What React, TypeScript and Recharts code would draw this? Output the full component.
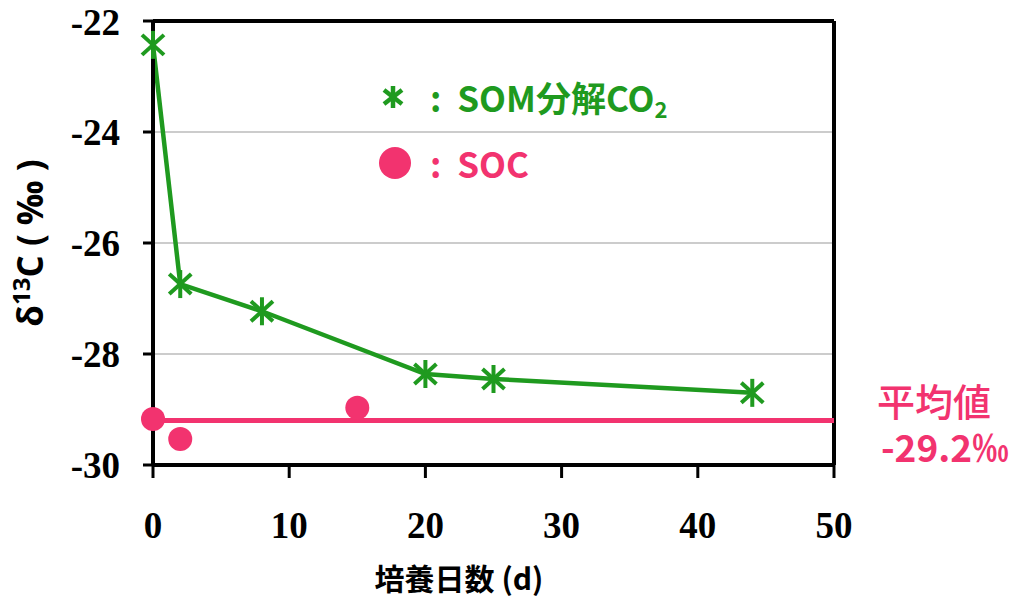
import React from 'react';
import {
  ComposedChart, Line, Scatter, XAxis, YAxis, CartesianGrid, ReferenceLine, Legend, Label,
} from 'recharts';

const somDays = [0, 2, 8, 20, 25, 44];
const somValues = [-22.43, -26.74, -27.23, -28.36, -28.45, -28.7];
const socDays = [0, 2, 15];
const socValues = [-29.17, -29.53, -28.97];
const socMean = -29.2;
const xTicks = [0, 10, 20, 30, 40, 50];
const yTicks = [-30, -28, -26, -24, -22];

const GREEN = '#1f9a1f';
const PINK = '#f2336f';

const somData = somDays.map((d, i) => ({ x: d, som: somValues[i] }));
const socData = socDays.map((d, i) => ({ x: d, soc: socValues[i] }));

const Asterisk = (props: any) => {
  const { cx, cy } = props;
  if (cx == null || cy == null) return null;
  return (
    <g stroke={GREEN} strokeWidth={4} strokeLinecap="butt">
      <line x1={cx} y1={cy - 14} x2={cx} y2={cy + 14} />
      <line x1={cx - 11} y1={cy - 10} x2={cx + 11} y2={cy + 10} />
      <line x1={cx - 11} y1={cy + 10} x2={cx + 11} y2={cy - 10} />
    </g>
  );
};

const Circle = (props: any) => {
  const { cx, cy } = props;
  if (cx == null || cy == null) return null;
  return <circle cx={cx} cy={cy} r={12} fill={PINK} />;
};

const sansJP = '"Noto Sans CJK JP", "Noto Sans", sans-serif';

const LegendContent = () => (
  <div style={{ fontFamily: sansJP, fontWeight: 700, fontSize: 35, lineHeight: '66px' }}>
    <div style={{ color: GREEN, display: 'flex', alignItems: 'center', height: 66 }}>
      <svg width={30} height={30} style={{ marginRight: 22 }}>
        <g stroke={GREEN} strokeWidth={4.5}>
          <line x1={15} y1={4} x2={15} y2={26} />
          <line x1={6} y1={8} x2={24} y2={22} />
          <line x1={6} y1={22} x2={24} y2={8} />
        </g>
      </svg>
      <span>:&nbsp;&nbsp;SOM分解CO<sub style={{ fontSize: 22, verticalAlign: -6, lineHeight: 0 }}>2</sub></span>
    </div>
    <div style={{ color: PINK, display: 'flex', alignItems: 'center', height: 66 }}>
      <svg width={34} height={34} style={{ marginRight: 18 }}>
        <circle cx={17} cy={17} r={16} fill={PINK} />
      </svg>
      <span>:&nbsp;&nbsp;SOC</span>
    </div>
  </div>
);

const MeanLabel = (props: any) => {
  const { viewBox } = props;
  const x = viewBox.x + viewBox.width + 100;
  const y = viewBox.y;
  return (
    <g fill={PINK} fontFamily={sansJP}>
      <text x={x} y={y - 5} textAnchor="middle" fontSize={38} fontWeight={500}>平均値</text>
      <text x={x + 11} y={y + 41} textAnchor="middle" fontSize={37} fontWeight={700}>{`${socMean.toFixed(1)}‰`}</text>
    </g>
  );
};

const YLabel = (props: any) => {
  const { viewBox } = props;
  const cx = 43;
  const cy = viewBox.y + viewBox.height / 2;
  return (
    <text
      transform={`rotate(-90, ${cx}, ${cy})`}
      x={cx}
      y={cy}
      textAnchor="middle"
      fontFamily='"Open Sans", sans-serif'
      fontWeight={700}
      fontSize={35}
      fill="#000"
    >
      δ<tspan dy={-13} fontSize={24}>13</tspan><tspan dy={13}>C ( ‰ )</tspan>
    </text>
  );
};

const XLabel = (props: any) => {
  const { viewBox } = props;
  return (
    <text
      x={459}
      y={viewBox.y + viewBox.height + 45}
      textAnchor="middle"
      fontFamily={sansJP}
      fontWeight={700}
      fontSize={30}
      fill="#000"
    >
      培養日数 (d)
    </text>
  );
};

const tickFont = { fontFamily: '"Liberation Serif", serif', fontWeight: 700, fontSize: 37, fill: '#000' };

export default function App() {
  return (
    <div style={{ position: 'absolute', left: 0, top: 0, background: '#fff' }}>
      <ComposedChart
        width={1019}
        height={601}
        margin={{ top: 21, right: 185, bottom: 56, left: 0 }}
      >
        <CartesianGrid horizontal vertical={false} stroke="#999" strokeWidth={1} />
        <XAxis
          type="number"
          dataKey="x"
          domain={[0, 50]}
          ticks={xTicks}
          height={80}
          tickSize={13}
          tickMargin={34}
          tick={tickFont}
          axisLine={{ stroke: '#000', strokeWidth: 4 }}
          tickLine={{ stroke: '#000', strokeWidth: 3 }}
        >
          <Label content={<XLabel />} />
        </XAxis>
        <YAxis
          type="number"
          domain={[-30, -22]}
          ticks={yTicks}
          width={153}
          tickSize={10}
          tickMargin={23}
          tick={tickFont}
          axisLine={{ stroke: '#000', strokeWidth: 4 }}
          tickLine={{ stroke: '#000', strokeWidth: 3 }}
        >
          <Label content={<YLabel />} />
        </YAxis>
        <ReferenceLine y={-22} stroke="#000" strokeWidth={4} />
        <ReferenceLine x={50} stroke="#000" strokeWidth={4} />
        <ReferenceLine y={socMean} stroke={PINK} strokeWidth={5} label={<MeanLabel />} />
        <Line
          data={somData}
          dataKey="som"
          stroke={GREEN}
          strokeWidth={4.5}
          dot={<Asterisk />}
          activeDot={false}
          isAnimationActive={false}
          legendType="none"
        />
        <Scatter
          data={socData}
          dataKey="soc"
          shape={<Circle />}
          isAnimationActive={false}
          legendType="none"
        />
        <Legend
          content={<LegendContent />}
          layout="horizontal"
          verticalAlign="middle"
          align="center"
          wrapperStyle={{ position: 'absolute', left: 378, top: 64, width: 360 }}
        />
      </ComposedChart>
    </div>
  );
}
